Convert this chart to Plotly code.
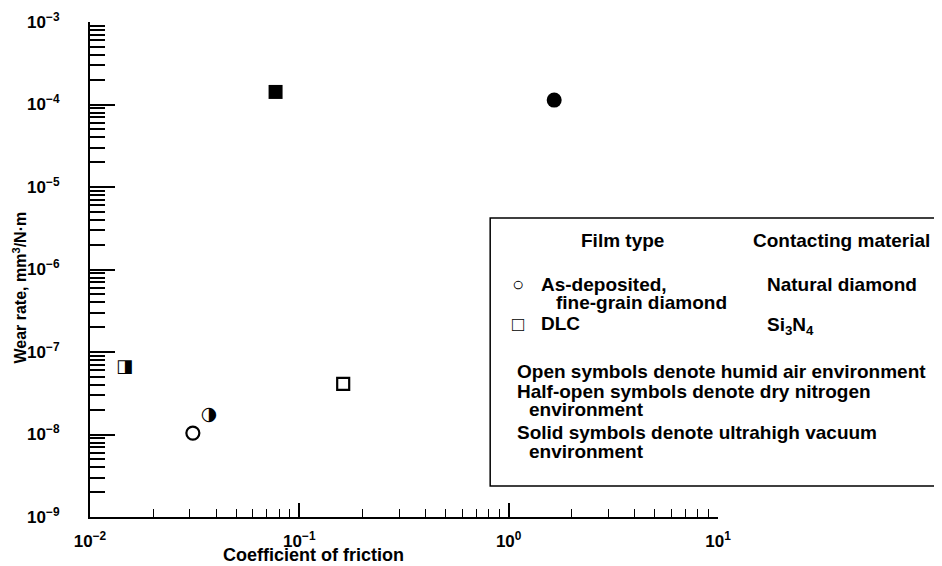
import plotly.graph_objects as go

# ---- data ----
environments = ["Humid air", "Dry nitrogen", "Ultrahigh vacuum"]
diamond_friction = [0.031, 0.037, 1.65]
diamond_wear = [1.04e-8, 1.72e-8, 1.13e-4]
dlc_friction = [0.162, 0.0146, 0.077]
dlc_wear = [4.1e-8, 6.4e-8, 1.42e-4]

x_tick_vals = [0.01, 0.1, 1, 10]
x_tick_text = ["10<sup>−2</sup>", "10<sup>−1</sup>", "10<sup>0</sup>", "10<sup>1</sup>"]
y_tick_vals = [1e-9, 1e-8, 1e-7, 1e-6, 1e-5, 1e-4, 1e-3]
y_tick_text = ["10<sup>−9</sup>", "10<sup>−8</sup>", "10<sup>−7</sup>", "10<sup>−6</sup>",
               "10<sup>−5</sup>", "10<sup>−4</sup>", "10<sup>−3</sup>"]

x_range_log = [-2, 1]
y_range_log = [-9, -3]

FONT = "Liberation Sans, Arial, sans-serif"
TICKFONT = dict(family=FONT, size=17, color="black")

fig = go.Figure()

# open symbols (humid air)
fig.add_trace(go.Scatter(x=[diamond_friction[0]], y=[diamond_wear[0]], mode="markers",
                         marker=dict(symbol="circle-open", size=13, color="black", line=dict(width=2.2)),
                         showlegend=False))
fig.add_trace(go.Scatter(x=[dlc_friction[0]], y=[dlc_wear[0]], mode="markers",
                         marker=dict(symbol="square-open", size=12, color="black", line=dict(width=2.2)),
                         showlegend=False))
# half-open symbols (dry nitrogen)
fig.add_trace(go.Scatter(x=[diamond_friction[1]], y=[diamond_wear[1]], mode="text", text=["◑"],
                         textposition="middle center",
                         textfont=dict(family="DejaVu Sans", size=19, color="black"),
                         showlegend=False))
fig.add_trace(go.Scatter(x=[dlc_friction[1]], y=[dlc_wear[1]], mode="text", text=["◨"],
                         textposition="middle center",
                         textfont=dict(family="DejaVu Sans", size=18, color="black"),
                         showlegend=False))
# solid symbols (ultrahigh vacuum)
fig.add_trace(go.Scatter(x=[diamond_friction[2]], y=[diamond_wear[2]], mode="markers",
                         marker=dict(symbol="circle", size=15, color="black"),
                         showlegend=False))
fig.add_trace(go.Scatter(x=[dlc_friction[2]], y=[dlc_wear[2]], mode="markers",
                         marker=dict(symbol="square", size=14, color="black"),
                         showlegend=False))

# page has an 8 px body margin: figure origin sits at (8, 8) in the window
OFF = 8
W, H = 942 - OFF, 566 - OFF
X0, X1 = 89.5, 718.0   # plot area, window pixels
Y0, Y1 = 22.0, 517.0


def px(x):
    return (x - X0) / (X1 - X0)


def py(y):
    return (Y1 - y) / (Y1 - Y0)


fig.update_xaxes(type="log", range=x_range_log, showgrid=False, zeroline=False,
                 showline=True, linecolor="black", linewidth=2, mirror=False, automargin=False,
                 ticks="inside", tickcolor="black", ticklen=14, tickwidth=1.5,
                 tickmode="array", tickvals=x_tick_vals,
                 ticktext=["<b>" + t + "</b>" for t in x_tick_text],
                 tickfont=TICKFONT, ticklabelstandoff=8,
                 minor=dict(ticks="inside", ticklen=8, tickwidth=1.2, tickcolor="black",
                            dtick="D1", showgrid=False))
fig.update_yaxes(type="log", range=y_range_log, showgrid=False, zeroline=False,
                 showline=True, linecolor="black", linewidth=2, mirror=False, automargin=False,
                 ticks="inside", tickcolor="black", ticklen=25, tickwidth=2,
                 tickmode="array", tickvals=y_tick_vals,
                 ticktext=["<b>" + t + "</b>" for t in y_tick_text],
                 tickfont=TICKFONT, ticklabelstandoff=25,
                 minor=dict(ticks="inside", ticklen=15, tickwidth=1.5, tickcolor="black",
                            dtick="D1", showgrid=False))

ann = []
FS = 19


def add_text(text, x, y, anchor="left", size=FS):
    ann.append(dict(text="<b>" + text + "</b>", x=px(x), y=py(y), xref="paper", yref="paper",
                    xanchor=anchor, yanchor="middle", showarrow=False, borderpad=0,
                    font=dict(family=FONT, size=size, color="black")))


add_text("Film type", 580, 241)
add_text("Contacting material", 752, 241)
add_text("○", 511, 284, size=20)
add_text("As-deposited,", 540, 284)
add_text("fine-grain diamond", 555, 302)
add_text("Natural diamond", 766, 284)
add_text("□", 511, 324, size=20)
add_text("DLC", 540, 324)
add_text("Si<sub>3</sub>N<sub>4</sub>", 766, 326)
add_text("Open symbols denote humid air environment", 516, 371)
add_text("Half-open symbols denote dry nitrogen", 516, 391)
add_text("environment", 528, 410)
add_text("Solid symbols denote ultrahigh vacuum", 516, 432)
add_text("environment", 528, 451)

# axis titles
ann.append(dict(text="<b>Coefficient of friction</b>", x=px(313), y=py(555), xref="paper", yref="paper",
                xanchor="center", yanchor="middle", showarrow=False,
                font=dict(family=FONT, size=18, color="black")))
ann.append(dict(text="<b>Wear rate, mm<sup>3</sup>/N·m</b>", x=px(19), y=py(288), xref="paper", yref="paper",
                xanchor="center", yanchor="middle", showarrow=False, textangle=-90,
                font=dict(family=FONT, size=16, color="black")))

fig.update_layout(
    width=W, height=H,
    font=dict(family=FONT, size=17, color="black"),
    margin=dict(l=X0 - OFF, r=(942 - X1), t=Y0 - OFF, b=(566 - Y1), autoexpand=False),
    paper_bgcolor="white", plot_bgcolor="white",
    showlegend=False,
    annotations=ann,
    shapes=[dict(type="rect", xref="paper", yref="paper",
                 x0=px(490), x1=px(960), y0=py(486), y1=py(218),
                 line=dict(color="black", width=1.5), fillcolor="rgba(0,0,0,0)", layer="above")],
)

fig.write_html("out.html")
